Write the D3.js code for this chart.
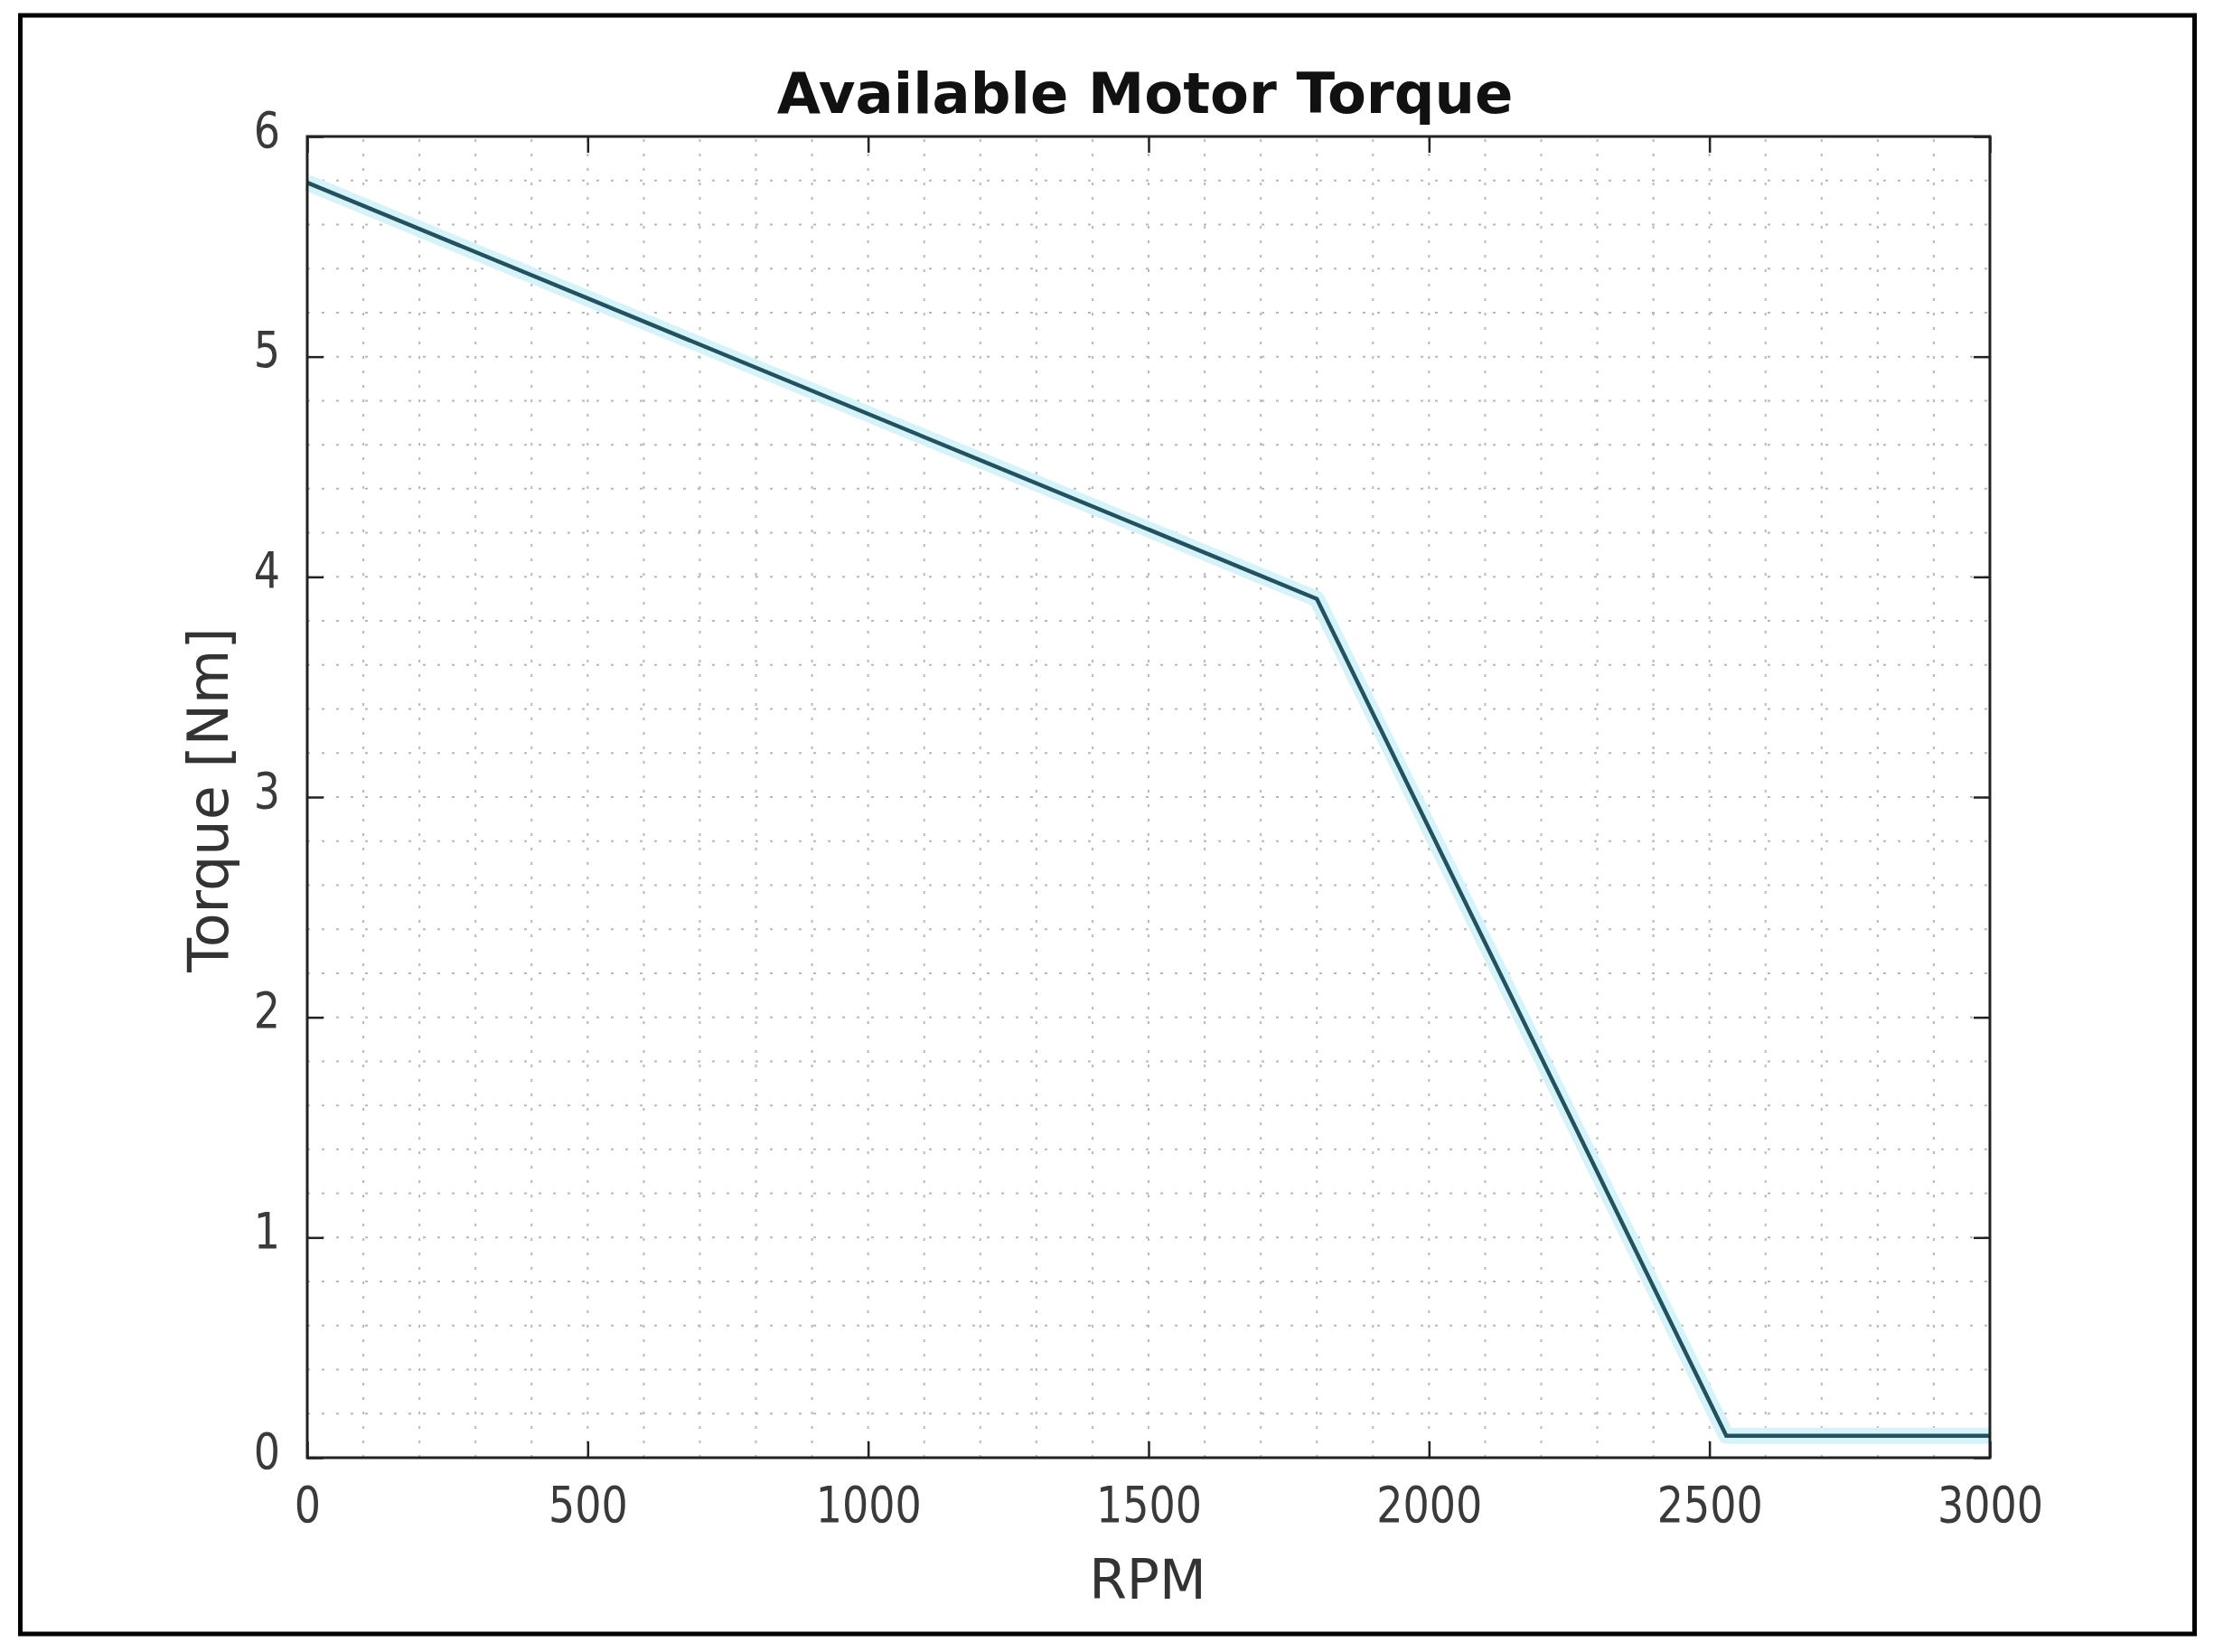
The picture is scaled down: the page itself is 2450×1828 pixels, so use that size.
<!DOCTYPE html>
<html>
<head>
<meta charset="utf-8">
<script src="https://cdn.jsdelivr.net/npm/d3@7"></script>
<style>
  html, body { margin: 0; padding: 0; background: #fff; }
  svg { display: block; }
</style>
</head>
<body>
<script>
// ---- data ----
const rpm    = [0, 1800, 2530, 3000];
const torque = [5.79, 3.9, 0.1, 0.1];
const xTicks = [0, 500, 1000, 1500, 2000, 2500, 3000];
const yTicks = [0, 1, 2, 3, 4, 5, 6];
const xMinor = d3.range(100, 3000, 100);
const yMinor = d3.range(0.2, 6, 0.2);
const title  = "Available Motor Torque";
const xLabel = "RPM";
const yLabel = "Torque [Nm]";

const W = 2450, H = 1828;
const m = { left: 340, right: 2202, top: 151, bottom: 1613 };

const svg = d3.select("body").append("svg").attr("width", W).attr("height", H);

// outer frame
svg.append("rect").attr("x", 22.5).attr("y", 17).attr("width", 2406).attr("height", 1791)
  .attr("fill", "none").attr("stroke", "#000").attr("stroke-width", 5);

const x = d3.scaleLinear().domain([0, 3000]).range([m.left, m.right]);
const y = d3.scaleLinear().domain([0, 6]).range([m.bottom, m.top]);

// grid (dotted)
const grid = svg.append("g").attr("stroke", "#b8b8b8").attr("stroke-width", 2)
  .attr("stroke-dasharray", "3,13");
grid.selectAll("line.v").data(xMinor).join("line").attr("class", "v")
  .attr("x1", d => x(d)).attr("x2", d => x(d)).attr("y1", m.bottom).attr("y2", m.top);
grid.selectAll("line.h").data(yMinor).join("line").attr("class", "h")
  .attr("y1", d => y(d)).attr("y2", d => y(d)).attr("x1", m.left).attr("x2", m.right);

// data line
const line = d3.line().x((d, i) => x(rpm[i])).y((d, i) => y(torque[i]));
svg.append("path").datum(torque).attr("d", line).attr("fill", "none")
  .attr("stroke", "#d6f3fa").attr("stroke-width", 18).attr("stroke-linejoin", "round");
svg.append("path").datum(torque).attr("d", line).attr("fill", "none")
  .attr("stroke", "#22525f").attr("stroke-width", 4.5).attr("stroke-linejoin", "miter");

// axes (ticks inward, all four sides)
const tickLen = 18;
const tickFont = "'DejaVu Sans Condensed', 'DejaVu Sans', sans-serif";
function styleAxis(g) {
  g.select(".domain").remove();
  g.selectAll(".tick line").attr("stroke", "#222").attr("stroke-width", 2.5);
  g.selectAll(".tick text").attr("fill", "#3a3a3a")
    .style("font-family", tickFont).style("font-stretch", "condensed").style("font-size", "55px");
}
function squeeze(sel) {
  sel.each(function () {
    const w = this.getComputedTextLength();
    if (w > 0) d3.select(this).attr("textLength", w * 0.93).attr("lengthAdjust", "spacingAndGlyphs");
  });
}
svg.append("g").attr("transform", `translate(0,${m.bottom})`)
  .call(d3.axisBottom(x).tickValues(xTicks).tickSize(-tickLen).tickPadding(32).tickFormat(d3.format("d")))
  .call(styleAxis)
  .selectAll(".tick text").attr("dy", "0.71em").call(squeeze);
svg.append("g").attr("transform", `translate(0,${m.top})`)
  .call(d3.axisTop(x).tickValues(xTicks).tickSize(-tickLen).tickFormat(""))
  .call(styleAxis);
svg.append("g").attr("transform", `translate(${m.left},0)`)
  .call(d3.axisLeft(y).tickValues(yTicks).tickSize(-tickLen).tickPadding(30).tickFormat(d3.format("d")))
  .call(styleAxis)
  .selectAll(".tick text").attr("dy", "0.2em").call(squeeze);
svg.append("g").attr("transform", `translate(${m.right},0)`)
  .call(d3.axisRight(y).tickValues(yTicks).tickSize(-tickLen).tickFormat(""))
  .call(styleAxis);

// plot frame
svg.append("rect").attr("x", m.left).attr("y", m.top)
  .attr("width", m.right - m.left).attr("height", m.bottom - m.top)
  .attr("fill", "none").attr("stroke", "#222").attr("stroke-width", 3);

// title & labels
svg.append("text").attr("x", (m.left + m.right) / 2 - 4).attr("y", 125)
  .attr("text-anchor", "middle").attr("fill", "#111")
  .style("font-family", "'DejaVu Sans', sans-serif").style("font-weight", "bold").style("font-size", "62.5px")
  .text(title);
svg.append("text").attr("x", 1270).attr("y", 1769)
  .attr("text-anchor", "middle").attr("fill", "#333")
  .style("font-family", "'DejaVu Sans', sans-serif").style("font-size", "60px")
  .text(xLabel);
svg.append("text").attr("transform", "translate(252,885) rotate(-90)")
  .attr("text-anchor", "middle").attr("fill", "#333")
  .style("font-family", "'DejaVu Sans', sans-serif").style("font-size", "62px")
  .text(yLabel);
</script>
</body>
</html>
